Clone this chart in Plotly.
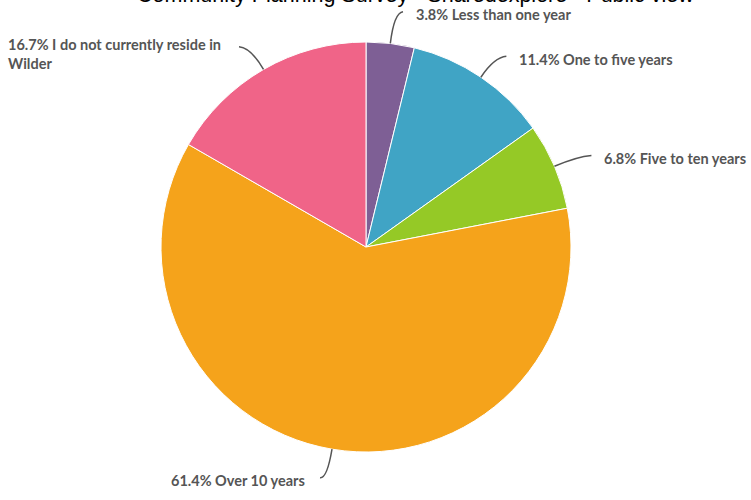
import math
import plotly.graph_objects as go

# ---- data ----
categories = ["Less than one year", "One to five years", "Five to ten years",
              "Over 10 years", "I do not currently reside in<br>Wilder"]
counts = [5, 15, 9, 81, 22]
colors = ["#7e5f95", "#40a4c5", "#95c926", "#f5a31b", "#f06488"]
title_text = "Community Planning Survey - Sharedexplore - Public view"

W, H = 751, 500
CX, CY, R = 366, 247, 205  # pie centre / radius in pixels (layout)

def px(x):
    return x / W

def py(y):
    return 1 - y / H

fig = go.Figure(go.Pie(
    labels=categories,
    values=counts,
    sort=False,
    direction="clockwise",
    rotation=0,
    textinfo="none",
    hoverinfo="label+percent",
    marker=dict(colors=colors, line=dict(color="white", width=1)),
    domain=dict(x=[px(CX - R), px(CX + R)], y=[py(CY + R), py(CY - R)]),
    showlegend=False,
))

# leader line styling per slice: radial length, horizontal hook
radial = [31, 24, 25, 30, 25]
hook = [9, 12, 14, -7, -12]
LABEL_FONT = dict(family="Lato", size=14.5, color="#555555", weight="bold")

total = sum(counts)
cum = 0
shapes = []
annotations = []
for i, (cat, v) in enumerate(zip(categories, counts)):
    mid = (cum + v / 2) / total * 2 * math.pi
    cum += v
    dx, dy = math.sin(mid), -math.cos(mid)
    x0, y0 = CX + R * dx, CY + R * dy
    x1, y1 = x0 + radial[i] * dx, y0 + radial[i] * dy
    x2, y2 = x1 + hook[i], y1 - 1
    shapes.append(dict(
        type="path", xref="paper", yref="paper",
        path=f"M {px(x0)},{py(y0)} Q {px(x1)},{py(y1)} {px(x2)},{py(y2)}",
        line=dict(color="#555555", width=1.5),
    ))
    pct = f"{v / total * 100:.1f}%"
    label = f"{pct} {cat}"
    if i == 4:
        annotations.append(dict(
            x=px(x2 - 16), y=py(y2 + 7), xref="paper", yref="paper",
            text=label, showarrow=False, xanchor="right", yanchor="middle",
            align="left", font=LABEL_FONT,
        ))
    else:
        right = hook[i] > 0
        annotations.append(dict(
            x=px(x2 + (11 if right else -13)), y=py(y2 + 3), xref="paper", yref="paper",
            text=label, showarrow=False,
            xanchor="left" if right else "right", yanchor="middle",
            font=LABEL_FONT,
        ))

annotations.append(dict(
    x=px(415), y=py(9), xref="paper", yref="paper", text=title_text,
    showarrow=False, xanchor="center", yanchor="bottom",
    font=dict(family="Liberation Sans, Arial", size=21.5, color="#000000"),
))

fig.update_layout(
    width=W, height=H,
    margin=dict(l=0, r=0, t=0, b=0),
    paper_bgcolor="white",
    plot_bgcolor="white",
    shapes=shapes,
    annotations=annotations,
)

fig.write_html("out.html", config={"displayModeBar": False},
               post_script="document.body.style.margin='0';")
